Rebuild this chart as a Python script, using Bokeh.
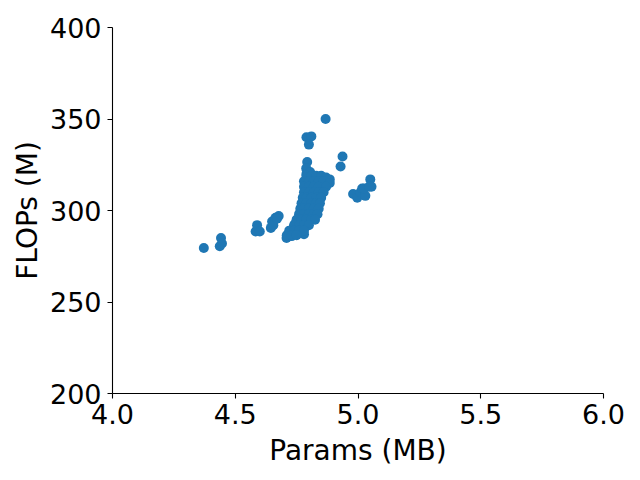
from bokeh.plotting import figure
from bokeh.models import FixedTicker, NumeralTickFormatter, Range1d
from bokeh.embed import file_html
from bokeh.resources import INLINE

x_ticks = [4.0, 4.5, 5.0, 5.5, 6.0]
y_ticks = [200, 250, 300, 350, 400]

params = [
    4.868,
    4.79, 4.81, 4.80,
    4.937, 4.929,
    4.793, 4.789, 4.79, 4.805,
    4.98, 4.997, 5.01, 5.017, 5.03, 5.025, 5.05, 5.055, 5.045,
    4.372, 4.437, 4.442, 4.446,
    4.583, 4.589, 4.60,
    4.645, 4.65, 4.664, 4.677, 4.655, 4.67,
    4.709, 4.715, 4.725, 4.738, 4.73, 4.745, 4.78, 4.76,
    4.79, 4.81, 4.83, 4.85, 4.87, 4.885,
    4.78, 4.80, 4.82, 4.84, 4.86, 4.885,
    4.78, 4.80, 4.82, 4.84, 4.87,
    4.78, 4.80, 4.82, 4.84, 4.86,
    4.775, 4.79, 4.81, 4.83, 4.85,
    4.77, 4.79, 4.81, 4.83, 4.845,
    4.765, 4.78, 4.80, 4.82, 4.84,
    4.76, 4.78, 4.80, 4.82, 4.835,
    4.75, 4.77, 4.79, 4.81, 4.825,
    4.74, 4.76, 4.78, 4.80,
    4.72, 4.74, 4.76, 4.78,
    4.71, 4.73, 4.75,
]
flops = [
    350,
    340, 340.5, 336,
    329.5, 324,
    326.5, 323, 320, 321,
    309, 307, 310, 312, 308, 312, 317, 313, 313,
    279.5, 280.5, 285, 282,
    288.5, 292, 288.5,
    290.5, 294, 296, 297, 292, 295.5,
    285, 287, 288.5, 291, 286, 293, 287, 289,
    319, 319, 319, 319, 318, 317,
    316, 316, 316, 316, 316, 315,
    313, 313, 313, 313, 313,
    310, 310, 310, 310, 310,
    307, 307, 307, 307, 307,
    304, 304, 304, 304, 304,
    301, 301, 301, 301, 301,
    298, 298, 298, 298, 298,
    295, 295, 295, 295, 295,
    292, 292, 292, 292,
    289, 289, 289, 289,
    286.5, 286.5, 286.5,
]

p = figure(width=640, height=480, output_backend="svg", toolbar_location=None,
           x_range=Range1d(4.0, 6.0), y_range=Range1d(200, 400),
           min_border_left=112, min_border_right=37, min_border_top=27, min_border_bottom=87)

p.scatter(params, flops, size=10, fill_color="#1f77b4", line_color=None)

p.outline_line_color = None
p.grid.visible = False
p.background_fill_color = "white"
p.border_fill_color = "white"

for ax in (p.xaxis[0], p.yaxis[0]):
    ax.axis_line_color = "black"
    ax.axis_line_width = 1.1
    ax.major_tick_line_color = "black"
    ax.major_tick_line_width = 1.1
    ax.major_tick_in = 0
    ax.major_tick_out = 5
    ax.minor_tick_line_color = None
    ax.major_label_text_font = "DejaVu Sans"
    ax.major_label_text_font_size = "27px"
    ax.major_label_text_color = "black"
    ax.axis_label_text_font = "DejaVu Sans"
    ax.axis_label_text_font_size = "28px"
    ax.axis_label_text_font_style = "normal"
    ax.axis_label_text_color = "black"

p.xaxis.ticker = FixedTicker(ticks=x_ticks)
p.xaxis.formatter = NumeralTickFormatter(format="0.0")
p.yaxis.ticker = FixedTicker(ticks=y_ticks)
p.xaxis.axis_label = "Params (MB)"
p.yaxis.axis_label = "FLOPs (M)"
p.xaxis.major_label_standoff = 5
p.yaxis.major_label_standoff = 6
p.xaxis.axis_label_standoff = 7
p.yaxis.axis_label_standoff = 3

open("out.html", "w").write(file_html(p, INLINE))
